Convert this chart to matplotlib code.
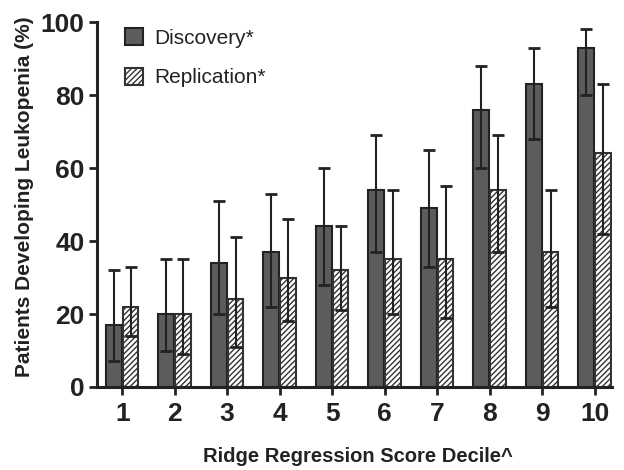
import matplotlib
matplotlib.use("Agg")
import matplotlib.pyplot as plt
import numpy as np

plt.rcParams['font.family'] = ['Liberation Sans', 'DejaVu Sans']
plt.rcParams['hatch.linewidth'] = 1.0

deciles = ['1', '2', '3', '4', '5', '6', '7', '8', '9', '10']
disc = [17, 20, 34, 37, 44, 54, 49, 76, 83, 93]
disc_lo = [7, 10, 20, 22, 28, 37, 33, 60, 68, 80]
disc_hi = [32, 35, 51, 53, 60, 69, 65, 88, 93, 98]
repl = [22, 20, 24, 30, 32, 35, 35, 54, 37, 64]
repl_lo = [14, 9, 11, 18, 21, 20, 19, 37, 22, 42]
repl_hi = [33, 35, 41, 46, 44, 54, 55, 69, 54, 83]

x = np.arange(1, len(deciles) + 1)
w = 0.3
off = 0.16

W, H = 624, 470
fig = plt.figure(figsize=(W / 100, H / 100), dpi=100)
ax = fig.add_axes([97 / W, 1 - 387 / H, (612 - 97) / W, (387 - 22) / H])

ax.bar(x - off, disc, w, color='#5c5c5c', edgecolor='#222222', linewidth=1.5,
       label='Discovery*', zorder=2)
ax.bar(x + off, repl, w, color='white', edgecolor='#333333', linewidth=1.5,
       hatch='//////', label='Replication*', zorder=2)

d_err = [np.array(disc) - np.array(disc_lo), np.array(disc_hi) - np.array(disc)]
r_err = [np.array(repl) - np.array(repl_lo), np.array(repl_hi) - np.array(repl)]
ax.errorbar(x - off, disc, yerr=d_err, fmt='none', ecolor='#222222',
            elinewidth=1.5, capsize=4.5, capthick=2, zorder=3)
ax.errorbar(x + off, repl, yerr=r_err, fmt='none', ecolor='#222222',
            elinewidth=1.5, capsize=4.5, capthick=2, zorder=3)

ax.set_ylim(0, 100)
ax.set_xlim(0.52, 10.33)
ax.set_xticks(x)
ax.set_xticklabels(deciles)
ax.set_yticks([0, 20, 40, 60, 80, 100])

for s in ['top', 'right']:
    ax.spines[s].set_visible(False)
for s in ['left', 'bottom']:
    ax.spines[s].set_linewidth(2.2)
    ax.spines[s].set_color('#222222')

ax.tick_params(axis='both', which='major', direction='out', length=6, width=2,
               color='#222222', labelsize=19, labelcolor='#222222', pad=3)
for lab in ax.get_xticklabels() + ax.get_yticklabels():
    lab.set_fontweight('bold')
ax.tick_params(axis='x', pad=5)

fig.text(25 / W, 1 - 197 / H, 'Patients Developing Leukopenia (%)', fontsize=15,
         fontweight='bold', color='#222222', rotation=90, ha='center', va='center')
fig.text(358 / W, 1 - 456 / H, 'Ridge Regression Score Decile^', fontsize=14.5,
         fontweight='bold', color='#222222', ha='center', va='center')

leg = ax.legend(loc='upper left', bbox_to_anchor=(0.017, 1.035), frameon=False,
                fontsize=15, handlelength=0.9, handleheight=0.9,
                labelspacing=0.95, handletextpad=0.55)
for t in leg.get_texts():
    t.set_color('#222222')

fig.savefig('out.png', dpi=100)
